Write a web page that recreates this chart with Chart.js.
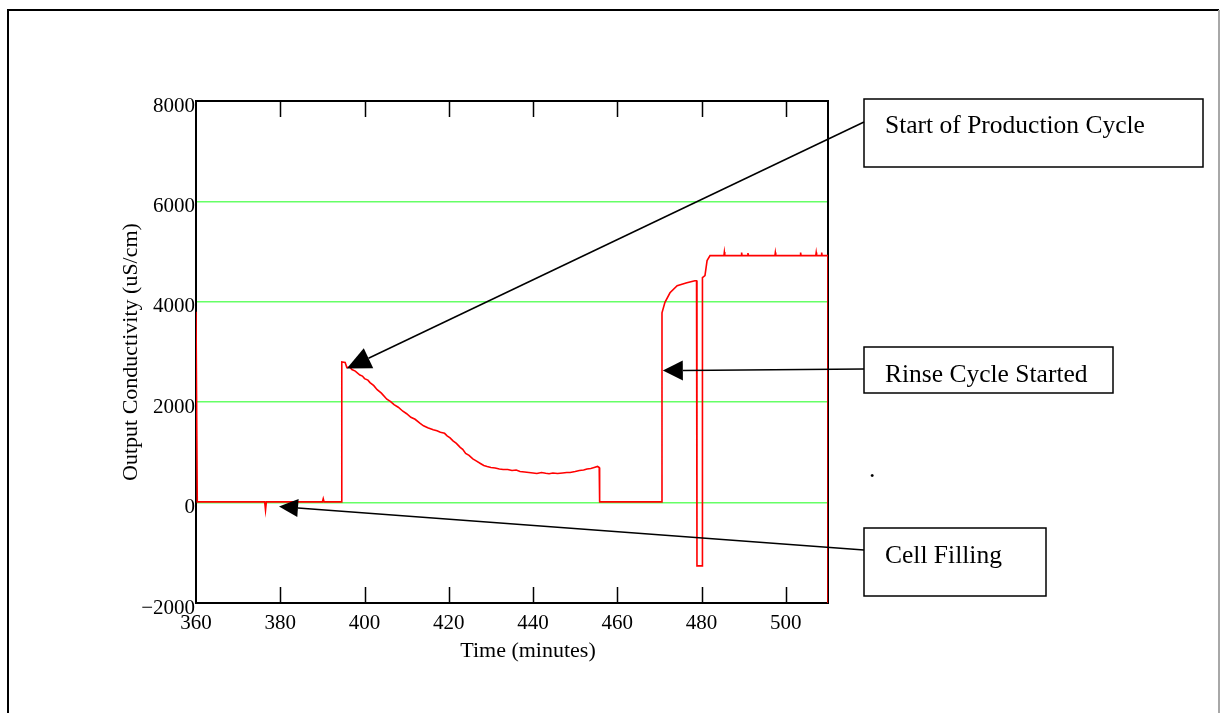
<!DOCTYPE html>
<html>
<head>
<meta charset="utf-8">
<script src="https://cdn.jsdelivr.net/npm/chart.js@4.4.1/dist/chart.umd.min.js"></script>
<style>
  html, body { margin: 0; padding: 0; background: #fff; }
  #wrap { width: 1220px; height: 713px; position: relative; }
</style>
</head>
<body>
<div id="wrap"><canvas id="c" width="1220" height="713"></canvas></div>
<script>
// ---- data ----
const timeMinutes = [
  360, 360.3, 376.3, 376.5, 376.7, 390.0, 390.2, 390.4, 394.5,
  394.6, 395.4, 395.8, 396.5, 397.0, 397.8, 398.9, 399.5, 400.0, 400.8, 401.3,
  402.2, 403.0, 404.0, 405.3, 406.2, 407.0, 408.0, 409.1, 410.0, 411.0,
  412.0, 413.2, 414.0, 415.0, 416.3, 417.2, 418.0, 419.0, 419.6, 420.3,
  421.0, 421.8, 422.7, 423.3, 424.0, 424.8, 425.7, 426.5, 427.5, 428.3,
  429.1, 430.0, 431.0, 432.0, 432.9, 434.0, 435.0, 436.0, 436.9, 438.0,
  439.0, 440.0, 440.9, 442.0, 443.0, 443.8, 444.7, 445.8, 447.0, 448.0,
  448.8, 450.0, 451.0, 452.0, 452.8, 453.7, 454.5, 455.3, 455.7, 455.8,
  470.4, 470.6, 471.3, 472.5, 474.2, 476.5, 478.4, 478.8, 478.9, 480.1,
  480.2, 480.8, 481.3, 482.0,
  485.3, 485.4, 485.5, 489.4, 489.5, 489.6, 490.9, 491.0, 491.1,
  497.4, 497.5, 497.6, 503.4, 503.5, 503.6, 507.1, 507.2, 507.3,
  508.4, 508.5, 508.6, 510, 510
];
const conductivity = [
  3800, 15, 15, -150, 15, 15, 80, 15, 15,
  2800, 2790, 2690, 2700, 2650, 2620, 2540, 2520, 2470, 2440, 2390,
  2330, 2250, 2180, 2060, 2010, 1950, 1900, 1820, 1770, 1700,
  1660, 1580, 1530, 1490, 1450, 1430, 1400, 1380, 1330, 1290,
  1230, 1180, 1100, 1060, 980, 940, 870, 830, 780, 740,
  720, 700, 690, 670, 660, 660, 640, 650, 620, 610,
  600, 590, 580, 600, 585, 575, 590, 580, 590, 600,
  600, 620, 640, 650, 670, 680, 700, 720, 700, 15,
  15, 3780, 3990, 4180, 4320, 4380, 4420, 4420, -1260, -1260,
  4480, 4520, 4820, 4920,
  4920, 4990, 4920, 4920, 4980, 4920, 4920, 4970, 4920,
  4920, 4980, 4920, 4920, 4980, 4920, 4920, 4980, 4920,
  4920, 4980, 4920, 4920, -2500
];
const xTicks = [360, 380, 400, 420, 440, 460, 480, 500];
const yTicks = [-2000, 0, 2000, 4000, 6000, 8000];
const xTitle = 'Time (minutes)';
const yTitle = 'Output Conductivity (uS/cm)';
const notes = [
  { text: 'Start of Production Cycle', t: 395.8, v: 2670 },
  { text: 'Rinse Cycle Started', t: 470.8, v: 2630 },
  { text: 'Cell Filling', t: 379.7, v: -80 }
];

// ---- styles / layout ----
const SERIF = '"Liberation Serif", "Times New Roman", serif';
const boxes = [
  { x: 864, y: 99, w: 339, h: 68, tx: 885, ty: 133, lx: 864, ly: 122, head: 24, half: 11 },
  { x: 864, y: 347, w: 249, h: 46, tx: 885, ty: 382, lx: 864, ly: 369, head: 20, half: 10 },
  { x: 864, y: 528, w: 182, h: 68, tx: 885, ty: 563, lx: 864, ly: 550, head: 19, half: 9 }
];

const points = timeMinutes.map((t, i) => ({ x: t, y: conductivity[i] }));

const framePlugin = {
  id: 'frame',
  beforeDatasetsDraw(chart) {
    const { ctx, chartArea: a, scales } = chart;
    ctx.save();
    ctx.strokeStyle = '#000';
    ctx.lineWidth = 1.5;
    xTicks.forEach(t => {
      if (t === 360) return;
      const px = Math.round(scales.x.getPixelForValue(t)) + 0.5;
      ctx.beginPath();
      ctx.moveTo(px, a.top); ctx.lineTo(px, a.top + 16);
      ctx.moveTo(px, a.bottom); ctx.lineTo(px, a.bottom - 16);
      ctx.stroke();
    });
    ctx.lineWidth = 2;
    ctx.strokeRect(a.left, a.top, a.right - a.left, a.bottom - a.top);
    ctx.restore();
  },
  afterDraw(chart) {
    const { ctx, scales } = chart;
    ctx.save();
    ctx.lineWidth = 2;
    ctx.strokeStyle = '#000';
    ctx.beginPath();
    ctx.moveTo(8, 720); ctx.lineTo(8, 10); ctx.lineTo(1219, 10);
    ctx.stroke();
    ctx.strokeStyle = '#a8a8a8';
    ctx.beginPath();
    ctx.moveTo(1219, 10); ctx.lineTo(1219, 720);
    ctx.stroke();

    ctx.fillStyle = '#000';
    ctx.font = '22px ' + SERIF;
    ctx.textAlign = 'center';
    ctx.textBaseline = 'alphabetic';
    ctx.fillText(xTitle, 528, 657);
    ctx.save();
    ctx.translate(137, 352);
    ctx.rotate(-Math.PI / 2);
    ctx.fillText(yTitle, 0, 0);
    ctx.restore();

    notes.forEach((n, i) => {
      const b = boxes[i];
      ctx.lineWidth = 1.5;
      ctx.strokeStyle = '#000';
      ctx.strokeRect(b.x, b.y, b.w, b.h);
      ctx.font = '25.5px ' + SERIF;
      ctx.textAlign = 'left';
      ctx.fillText(n.text, b.tx, b.ty);
      const tipX = scales.x.getPixelForValue(n.t);
      const tipY = scales.y.getPixelForValue(n.v);
      const dx = b.lx - tipX, dy = b.ly - tipY;
      const L = Math.hypot(dx, dy);
      const ux = dx / L, uy = dy / L;
      const bx = tipX + ux * b.head, by = tipY + uy * b.head;
      ctx.beginPath();
      ctx.moveTo(b.lx, b.ly); ctx.lineTo(bx, by);
      ctx.stroke();
      ctx.beginPath();
      ctx.moveTo(tipX, tipY);
      ctx.lineTo(bx - uy * b.half, by + ux * b.half);
      ctx.lineTo(bx + uy * b.half, by - ux * b.half);
      ctx.closePath();
      ctx.fill();
    });
    ctx.font = '25.5px ' + SERIF;
    ctx.textAlign = 'left';
    ctx.fillText('.', 869, 477);
    ctx.restore();
  }
};

new Chart(document.getElementById('c'), {
  type: 'scatter',
  data: {
    datasets: [{
      data: points,
      showLine: true,
      borderColor: '#ff0000',
      borderWidth: 1.6,
      pointRadius: 0,
      tension: 0
    }]
  },
  options: {
    responsive: false,
    animation: false,
    events: [],
    layout: { padding: { left: 0, top: 101, right: 392, bottom: 0 } },
    plugins: { legend: { display: false }, tooltip: { enabled: false } },
    scales: {
      x: {
        type: 'linear',
        min: 360, max: 510,
        afterFit(s) { s.height = 110; },
        afterBuildTicks(s) { s.ticks = xTicks.map(v => ({ value: v })); },
        grid: { display: false },
        border: { display: false },
        ticks: {
          color: '#000',
          font: { family: SERIF, size: 21 },
          padding: 0,
          maxRotation: 0,
          autoSkip: false
        }
      },
      y: {
        type: 'linear',
        min: -2000, max: 8000,
        afterFit(s) { s.width = 196; },
        afterBuildTicks(s) { s.ticks = yTicks.map(v => ({ value: v })); },
        grid: {
          drawTicks: false,
          lineWidth: 1.5,
          color: c => (c.tick && (c.tick.value === -2000 || c.tick.value === 8000)) ? 'rgba(0,0,0,0)' : 'rgb(102,255,102)'
        },
        border: { display: false },
        ticks: {
          color: '#000',
          font: { family: SERIF, size: 21 },
          padding: 1,
          labelOffset: 5,
          autoSkip: false,
          callback: v => (v < 0 ? '\u2212' + Math.abs(v) : String(v))
        }
      }
    }
  },
  plugins: [framePlugin]
});
</script>
</body>
</html>
